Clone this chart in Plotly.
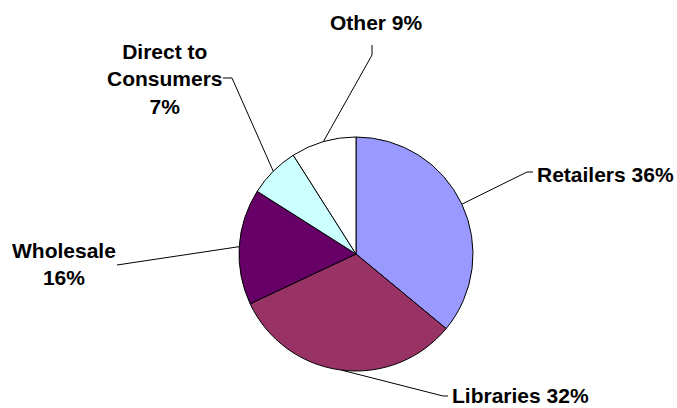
import math
import plotly.graph_objects as go

categories = ["Retailers", "Libraries", "Wholesale", "Direct to Consumers", "Other"]
values = [36, 32, 16, 7, 9]
label_texts = ["Retailers 36%", "Libraries 32%", "Wholesale<br>16%", "Direct to<br>Consumers<br>7%", "Other 9%"]
colors = ["#9999FF", "#993366", "#660066", "#CCFFFF", "#FFFFFF"]

W, H = 677, 408
CX, CY, R = 356, 254, 117

fig = go.Figure(go.Pie(
    labels=categories, values=values, sort=False, direction="clockwise", rotation=0,
    marker=dict(colors=colors, line=dict(color="#000000", width=1)),
    textinfo="none", hoverinfo="label+percent", showlegend=False,
    domain=dict(x=[(CX - R) / W, (CX + R) / W], y=[(H - CY - R) / H, (H - CY + R) / H]),
))

# label placement (pixel coords): elbow points, text position, anchor
layout_info = [
    dict(pts=[(527, 172), (533, 172)], tx=535, ty=174, xa="left"),
    dict(pts=[(443, 396), (448, 396)], tx=450, ty=395, xa="left"),
    dict(pts=[(117, 265)], tx=64, ty=264, xa="center"),
    dict(pts=[(232, 78), (223, 78)], tx=165, ty=79, xa="center"),
    dict(pts=[(372, 55), (372, 45)], tx=376, ty=22, xa="center"),
]

def px(x, y):
    return x / W, 1 - y / H

total = sum(values)
cum = 0
shapes, annotations = [], []
for v, txt, info in zip(values, label_texts, layout_info):
    mid = (cum + v / 2) / total * 2 * math.pi
    cum += v
    ax = CX + R * math.sin(mid)
    ay = CY - R * math.cos(mid)
    pts = [(ax, ay)] + info["pts"]
    path = "M " + " L ".join("%f,%f" % px(x, y) for x, y in pts)
    shapes.append(dict(type="path", path=path, xref="paper", yref="paper",
                       line=dict(color="#000000", width=1)))
    tx, ty = px(info["tx"], info["ty"])
    annotations.append(dict(text="<b>%s</b>" % txt, x=tx, y=ty, xref="paper", yref="paper",
                            xanchor=info["xa"], yanchor="middle", showarrow=False,
                            align="center",
                            font=dict(family="Liberation Sans, Arial, sans-serif", size=21, color="#000000")))

fig.update_layout(width=W, height=H, margin=dict(l=0, r=0, t=0, b=0),
                  paper_bgcolor="white", plot_bgcolor="white",
                  shapes=shapes, annotations=annotations)
fig.write_html("out.html")
